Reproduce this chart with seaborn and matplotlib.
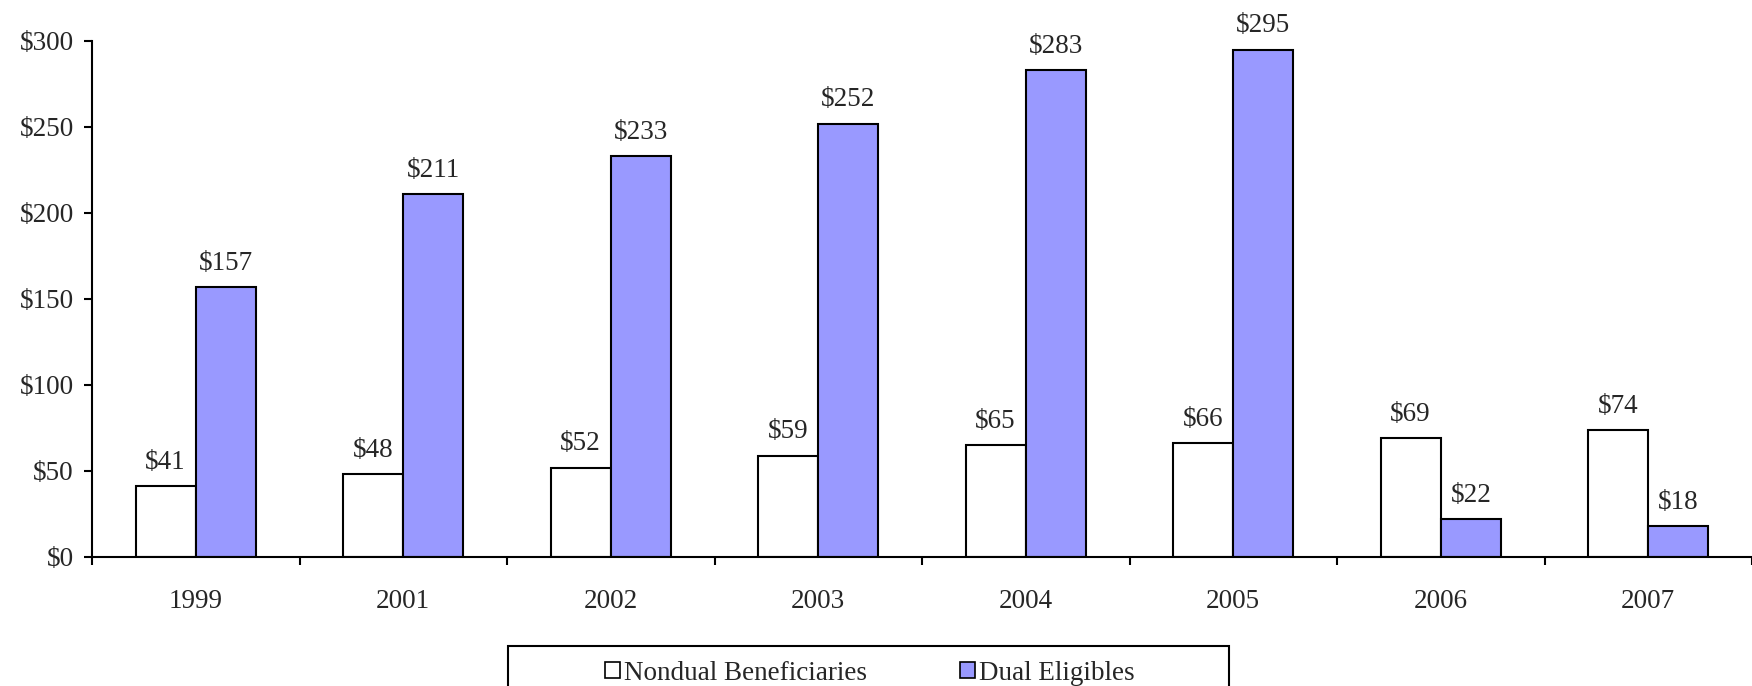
import pandas as pd
import matplotlib
matplotlib.use("Agg")
from matplotlib import pyplot as plt
from matplotlib.patches import Rectangle
from matplotlib.ticker import FixedLocator
import seaborn as sns

years = ["1999", "2001", "2002", "2003", "2004", "2005", "2006", "2007"]
nondual = [41, 48, 52, 59, 65, 66, 69, 74]
dual = [157, 211, 233, 252, 283, 295, 22, 18]
series = ["Nondual Beneficiaries", "Dual Eligibles"]

df = pd.DataFrame({
    "Year": years * 2,
    "Value": nondual + dual,
    "Group": [series[0]] * len(years) + [series[1]] * len(years),
})

sns.set_style("white")
plt.rcParams["font.family"] = ["Liberation Serif", "DejaVu Serif"]
fs = 19.5
plt.rcParams["font.size"] = fs

fig = plt.figure(figsize=(17.52, 6.86), dpi=100)
ax = fig.add_axes([92 / 1752, 1 - 557 / 686, 1 - 92 / 1752, (557 - 41) / 686])

sns.barplot(data=df, x="Year", y="Value", hue="Group", order=years, hue_order=series,
            palette=["white", "#9999FF"], width=0.58, edgecolor="black", linewidth=1.5,
            saturation=1, ax=ax, legend=False)

for cont, vals in zip(ax.containers, [nondual, dual]):
    ax.bar_label(cont, labels=["$%d" % v for v in vals], padding=8, fontsize=fs)

ax.set_ylim(0, 300)
ax.set_xlim(-0.5, 7.5)
ax.set_yticks(range(0, 301, 50))
ax.set_yticklabels(["$%d" % v for v in range(0, 301, 50)], fontsize=fs)
ax.set_xticklabels(years, fontsize=fs)
ax.set_xlabel("")
ax.set_ylabel("")

for s in ["top", "right"]:
    ax.spines[s].set_visible(False)
for s in ["left", "bottom"]:
    ax.spines[s].set_color("black")
    ax.spines[s].set_linewidth(1.5)

ax.tick_params(axis="y", direction="out", length=6, width=1.5, color="black", left=True, pad=7)
ax.tick_params(axis="x", which="major", length=0, pad=23)
ax.xaxis.set_minor_locator(FixedLocator([i + 0.5 for i in range(-1, 8)]))
ax.tick_params(axis="x", which="minor", direction="out", length=6, width=1.5, color="black", bottom=True)

handles = [Rectangle((0, 0), 1, 1, facecolor=c, edgecolor="black", linewidth=1.2) for c in ["white", "#9999FF"]]
fig.legend(handles, series, loc="center left", bbox_to_anchor=(605 / 1752, 1 - 673 / 686),
           ncol=2, frameon=False, fontsize=fs, handlelength=0.55, handleheight=0.55,
           handletextpad=0.15, columnspacing=3.45, borderpad=0, borderaxespad=0)
fig.patches.append(Rectangle((508 / 1752, -0.05), (1229 - 508) / 1752, 0.05 + 40 / 686,
                             transform=fig.transFigure, fill=False, edgecolor="black", linewidth=1.5))

fig.savefig("out.png", dpi=100)
